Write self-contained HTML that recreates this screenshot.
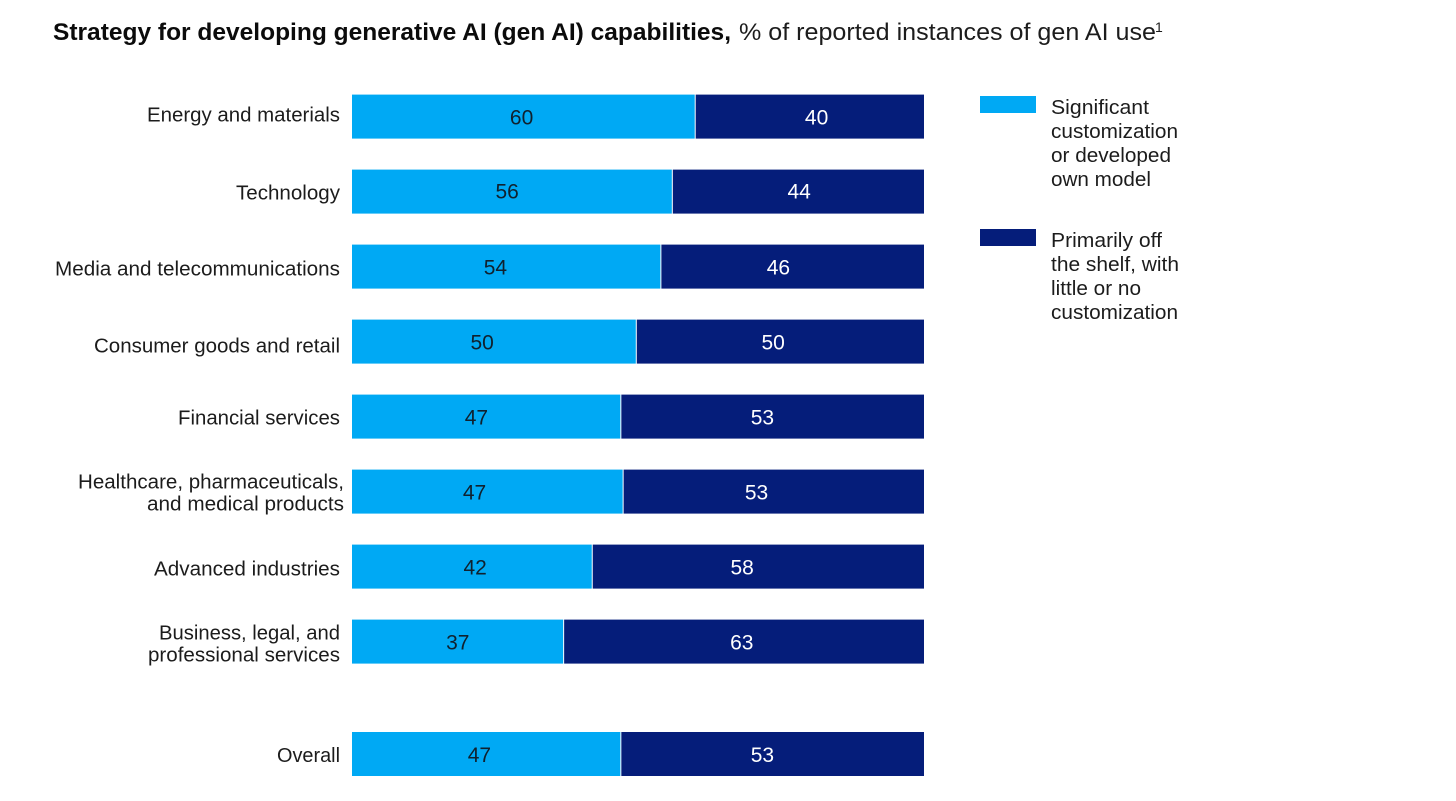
<!DOCTYPE html>
<html lang="en">
<head>
<meta charset="utf-8">
<title>Strategy for developing generative AI capabilities</title>
<style>
html,body{margin:0;padding:0;background:#fff;width:1456px;height:801px;overflow:hidden}
svg{display:block}
text{font-family:"Liberation Sans",sans-serif}
</style>
</head>
<body>
<svg id="chart" xmlns="http://www.w3.org/2000/svg" width="1456" height="801" viewBox="0 0 1456 801">
  <text x="53" y="40" font-size="24" fill="#0b0b0b">
    <tspan font-weight="700" x="53" textLength="678" lengthAdjust="spacingAndGlyphs">Strategy for developing generative AI (gen AI) capabilities,</tspan>
    <tspan x="739" textLength="417" lengthAdjust="spacingAndGlyphs" fill="#1c1c1c">% of reported instances of gen AI use</tspan>
  </text>
  <text x="1155" y="32" font-size="14" fill="#1c1c1c">1</text>

  <g>
    <rect x="980" y="96" width="56" height="17" fill="#00a9f4"></rect>
    <text font-size="20" fill="#1c1c1c">
      <tspan x="1051" y="114" textLength="98" lengthAdjust="spacingAndGlyphs">Significant</tspan>
      <tspan x="1051" y="138" textLength="127" lengthAdjust="spacingAndGlyphs">customization</tspan>
      <tspan x="1051" y="162" textLength="120" lengthAdjust="spacingAndGlyphs">or developed</tspan>
      <tspan x="1051" y="186" textLength="100" lengthAdjust="spacingAndGlyphs">own model</tspan>
    </text>
    <rect x="980" y="229" width="56" height="17" fill="#051d7a"></rect>
    <text font-size="20" fill="#1c1c1c">
      <tspan x="1051" y="247" textLength="111" lengthAdjust="spacingAndGlyphs">Primarily off</tspan>
      <tspan x="1051" y="271" textLength="128" lengthAdjust="spacingAndGlyphs">the shelf, with</tspan>
      <tspan x="1051" y="295" textLength="90" lengthAdjust="spacingAndGlyphs">little or no</tspan>
      <tspan x="1051" y="319" textLength="127" lengthAdjust="spacingAndGlyphs">customization</tspan>
    </text>
  </g>
  <g id="rows"></g>
</svg>

<script>
// Chart data
const categories = [
  ["Energy and materials"],
  ["Technology"],
  ["Media and telecommunications"],
  ["Consumer goods and retail"],
  ["Financial services"],
  ["Healthcare, pharmaceuticals,", "and medical products"],
  ["Advanced industries"],
  ["Business, legal, and", "professional services"],
  ["Overall"]
];
const customizedValues = [60, 56, 54, 49.7, 47, 47.4, 42, 37, 47];
const offTheShelfValues = [40, 44, 46, 50.3, 53, 52.6, 58, 63, 53];

// Layout tweaks only (original label placement is slightly off-centre)
const customizedLabelNudge = [-3, -6, -12, -13, -11, -14, 2, -1, -8];
const offTheShelfLabelNudge = [7, 1, -14, -7, -10, -17, -16, -2, -10];
const valueLabelDy = [0, -1, 0, 0, 0, 0, 0, 0, 0];
const labelLineWidths = [[193], [104], [285], [246], [162], [266, 197], [186], [181, 192], [63]];
const labelDy = [0, 3, 4, 6, 3, 2, 4, 3, 3];
const labelRightShift = [0, 0, 0, 0, 0, 4, 0, 0, 0];

const SVG_NS = "http://www.w3.org/2000/svg";
const rows = document.getElementById("rows");
const plotLeft = 352, plotRight = 924, barHeight = 44;

function xScale(value) {
  return plotLeft + (value / 100) * (plotRight - plotLeft);
}
function yBand(i) {
  // Rows are evenly spaced; the final "Overall" row sits after an extra half-row gap
  return 94.6 + 75 * i + (i === categories.length - 1 ? 37.4 : 0);
}
function slug(s) {
  return s.toLowerCase().replace(/[^a-z0-9]+/g, "-").replace(/^-|-$/g, "");
}
function make(tag, attrs) {
  const el = document.createElementNS(SVG_NS, tag);
  for (const k in attrs) el.setAttribute(k, attrs[k]);
  return el;
}

categories.forEach(function (lines, i) {
  const key = slug(lines[0]);
  const y = yBand(i);
  const a = customizedValues[i];
  const b = offTheShelfValues[i];
  const total = a + b;
  const split = xScale((a / total) * 100);

  const g = make("g", {});
  
  

  // Category label
  const label = make("text", {
    "font-size": 20,
    fill: "#1c1c1c",
    "text-anchor": "end"
  });
  
  
  const mid = y + barHeight / 2 + labelDy[i];
  lines.forEach(function (line, j) {
    const base = lines.length === 1 ? mid + 5 : mid - 5 + j * 22;
    const t = make("tspan", {
      x: 340 + labelRightShift[i],
      y: base,
      textLength: labelLineWidths[i][j],
      lengthAdjust: "spacingAndGlyphs"
    });
    t.textContent = line;
    label.appendChild(t);
  });
  g.appendChild(label);

  // Customized segment
  const barA = make("rect", {
    x: plotLeft,
    y: y,
    width: split - plotLeft - 0.5,
    height: barHeight,
    fill: "#00a9f4"
  });
  
  
  g.appendChild(barA);

  // Off-the-shelf segment
  const barB = make("rect", {
    x: split + 0.5,
    y: y,
    width: plotRight - split - 0.5,
    height: barHeight,
    fill: "#051d7a"
  });
  
  
  g.appendChild(barB);

  // Value labels
  const labelA = make("text", {
    x: (plotLeft + split) / 2 + customizedLabelNudge[i] + 1,
    y: y + 30 + valueLabelDy[i],
    "font-size": 21,
    fill: "#10212e",
    "text-anchor": "middle"
  });
  
  
  labelA.textContent = Math.round(a);
  g.appendChild(labelA);

  const labelB = make("text", {
    x: (split + plotRight) / 2 + offTheShelfLabelNudge[i],
    y: y + 30 + valueLabelDy[i],
    "font-size": 21,
    fill: "#ffffff",
    "text-anchor": "middle"
  });
  
  
  labelB.textContent = Math.round(b);
  g.appendChild(labelB);

  rows.appendChild(g);
});
</script>
</body>
</html>
